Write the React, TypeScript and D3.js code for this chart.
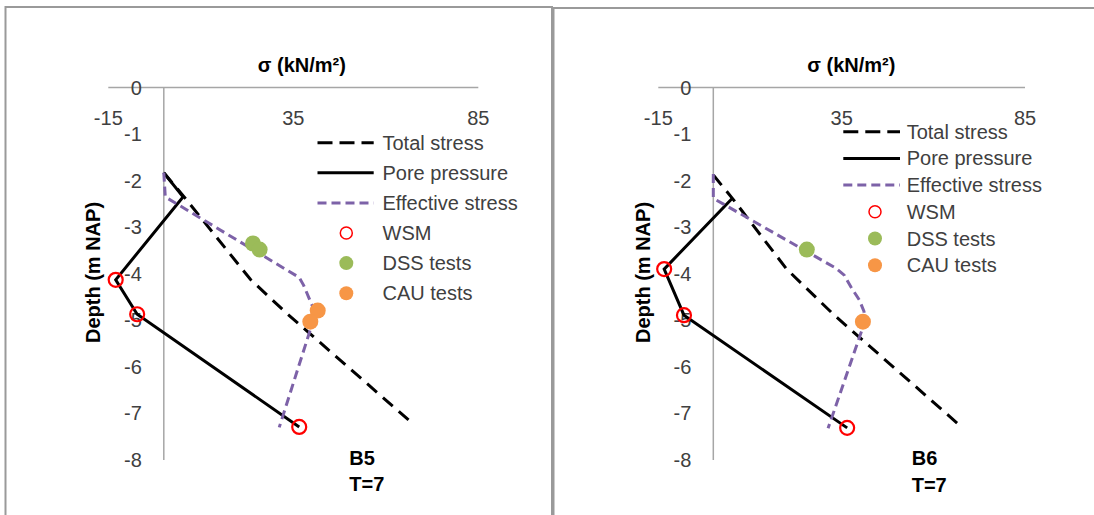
import React from "react";
import * as d3 from "d3";

// ---------- data ----------
const xTicks = [-15, 35, 85];
const yTicks = [0, -1, -2, -3, -4, -5, -6, -7, -8];
const legendLabels = ["Total stress", "Pore pressure", "Effective stress", "WSM", "DSS tests", "CAU tests"];
const xTitle = "σ (kN/m²)";
const yTitle = "Depth (m NAP)";

// B5
const b5TotalSigma = [0, 5.5, 23.5, 33.5, 67.3];
const b5TotalDepth = [-1.83, -2.35, -4.13, -4.87, -7.22];
const b5PoreSigma = [0, 5.2, -13.0, -7.2, 36.6];
const b5PoreDepth = [-1.83, -2.35, -4.13, -4.87, -7.29];
const b5EffSigma = [0, 0.4, 36.6, 37.8, 41.0, 31.2];
const b5EffDepth = [-1.83, -2.35, -4.08, -4.25, -4.85, -7.3];
const b5WsmSigma = [-13.0, -7.2, 36.6];
const b5WsmDepth = [-4.13, -4.87, -7.29];
const b5DssSigma = [24.1, 25.9];
const b5DssDepth = [-3.35, -3.48];
const b5CauSigma = [41.6, 39.6];
const b5CauDepth = [-4.79, -5.03];

// B6
const b6TotalSigma = [0, 5.2, 20.0, 33.0, 67.4];
const b6TotalDepth = [-1.88, -2.38, -3.9, -4.89, -7.27];
const b6PoreSigma = [5.2, -13.4, -8.0, 36.5];
const b6PoreDepth = [-2.38, -3.9, -4.89, -7.31];
const b6EffSigma = [0, 0, 33.4, 35.7, 37.5, 39.8, 41.1, 41.0, 31.3];
const b6EffDepth = [-1.86, -2.38, -3.88, -4.03, -4.28, -4.56, -4.81, -5.1, -7.32];
const b6WsmSigma = [-13.4, -8.0, 36.5];
const b6WsmDepth = [-3.9, -4.89, -7.31];
const b6DssSigma = [25.5];
const b6DssDepth = [-3.48];
const b6CauSigma = [40.8];
const b6CauDepth = [-5.03];

const zip = (xs: number[], ys: number[]) => xs.map((x, i) => [x, ys[i]] as [number, number]);

const panels = [
  {
    name: "B5",
    frame: { x: 5.5, y: 7, w: 546.5 },
    xr: [108.3, 478.3],
    legend: { x1: 317.5, x2: 373.7, mx: 346.3, tx: 382.5, y0: 142.7, dy: 30.1 },
    tag: { x: 349.3, y1: 458.3, y2: 484 },
    total: zip(b5TotalSigma, b5TotalDepth),
    pore: zip(b5PoreSigma, b5PoreDepth),
    eff: zip(b5EffSigma, b5EffDepth),
    wsm: zip(b5WsmSigma, b5WsmDepth),
    dss: zip(b5DssSigma, b5DssDepth),
    cau: zip(b5CauSigma, b5CauDepth),
  },
  {
    name: "B6",
    frame: { x: 553.5, y: 8, w: 560 },
    xr: [658.3, 1025],
    legend: { x1: 843.3, x2: 900, mx: 875, tx: 906.7, y0: 131.7, dy: 26.7 },
    tag: { x: 911.7, y1: 458.3, y2: 485 },
    total: zip(b6TotalSigma, b6TotalDepth),
    pore: zip(b6PoreSigma, b6PoreDepth),
    eff: zip(b6EffSigma, b6EffDepth),
    wsm: zip(b6WsmSigma, b6WsmDepth),
    dss: zip(b6DssSigma, b6DssDepth),
    cau: zip(b6CauSigma, b6CauDepth),
  },
];

const FONT = "'Liberation Sans', Arial, sans-serif";
const TXT = "#404040";
const PURPLE = "#7d62a8";
const GREEN = "#9BBB59";
const ORANGE = "#F79646";
const RED = "#FF0000";
const AXIS = "#a6a6a6";

function Panel({ p }: { p: (typeof panels)[number] }) {
  const x = d3.scaleLinear().domain([-15, 85]).range(p.xr as [number, number]);
  const y = d3.scaleLinear().domain([0, -8]).range([87.5, 460]);
  const line = d3
    .line<[number, number]>()
    .x((d) => x(d[0]))
    .y((d) => y(d[1]));
  const x0 = x(0);
  const L = p.legend;
  const ly = (i: number) => L.y0 + L.dy * i;
  return (
    <g>
      <rect x={p.frame.x} y={p.frame.y} width={p.frame.w} height={600} fill="#fff" stroke="#9a9a9a" strokeWidth={2} />
      {/* axes */}
      <line x1={x(-15)} x2={x(85)} y1={y(0)} y2={y(0)} stroke={AXIS} strokeWidth={1.5} />
      <line x1={x0} x2={x0} y1={y(0)} y2={y(-8)} stroke={AXIS} strokeWidth={1.5} />
      {xTicks.map((t) => (
        <text key={"xt" + t} x={x(t)} y={118} textAnchor="middle" dominantBaseline="central" fontSize={20} fill={TXT} fontFamily={FONT}>
          {t}
        </text>
      ))}
      {yTicks.map((t) => (
        <text key={"yt" + t} x={x0 - 22} y={y(t)} textAnchor="end" dominantBaseline="central" fontSize={20} fill={TXT} fontFamily={FONT}>
          {t}
        </text>
      ))}
      <text x={x0 + 138} y={65} textAnchor="middle" dominantBaseline="central" fontSize={20} fontWeight="bold" fill="#000" fontFamily={FONT}>
        {xTitle}
      </text>
      <text
        transform={`translate(${x0 - 70.5},272.5) rotate(-90)`}
        textAnchor="middle"
        dominantBaseline="central"
        fontSize={20}
        fontWeight="bold"
        fill="#000"
        fontFamily={FONT}
      >
        {yTitle}
      </text>
      {/* series */}
      <path d={line(p.total) || ""} fill="none" stroke="#000" strokeWidth={3} strokeDasharray="13,8" />
      <path d={line(p.pore) || ""} fill="none" stroke="#000" strokeWidth={3} strokeLinejoin="miter" />
      <path d={line(p.eff) || ""} fill="none" stroke={PURPLE} strokeWidth={3} strokeDasharray="9,5" />
      {p.wsm.map((d, i) => (
        <circle key={"w" + i} cx={x(d[0])} cy={y(d[1])} r={7} fill="none" stroke={RED} strokeWidth={2.2} />
      ))}
      {p.dss.map((d, i) => (
        <circle key={"d" + i} cx={x(d[0])} cy={y(d[1])} r={8} fill={GREEN} />
      ))}
      {p.cau.map((d, i) => (
        <circle key={"c" + i} cx={x(d[0])} cy={y(d[1])} r={8} fill={ORANGE} />
      ))}
      {/* legend */}
      <line x1={L.x1} x2={L.x2} y1={ly(0)} y2={ly(0)} stroke="#000" strokeWidth={3} strokeDasharray="15,7" />
      <line x1={L.x1} x2={L.x2} y1={ly(1)} y2={ly(1)} stroke="#000" strokeWidth={3} />
      <line x1={L.x1} x2={L.x2} y1={ly(2)} y2={ly(2)} stroke={PURPLE} strokeWidth={3} strokeDasharray="9,5" />
      <circle cx={L.mx} cy={ly(3)} r={6} fill="none" stroke={RED} strokeWidth={1.5} />
      <circle cx={L.mx} cy={ly(4)} r={7} fill={GREEN} />
      <circle cx={L.mx} cy={ly(5)} r={7} fill={ORANGE} />
      {legendLabels.map((s, i) => (
        <text key={s} x={L.tx} y={ly(i)} dominantBaseline="central" fontSize={20} fill={TXT} fontFamily={FONT}>
          {s}
        </text>
      ))}
      <text x={p.tag.x} y={p.tag.y1} dominantBaseline="central" fontSize={20} fontWeight="bold" fill="#000" fontFamily={FONT}>
        {p.name}
      </text>
      <text x={p.tag.x} y={p.tag.y2} dominantBaseline="central" fontSize={20} fontWeight="bold" fill="#000" fontFamily={FONT}>
        T=7
      </text>
    </g>
  );
}

export default function App() {
  return (
    <svg width={1094} height={515} style={{ position: "absolute", left: 0, top: 0, background: "#fff" }}>
      <rect x={0} y={0} width={1094} height={515} fill="#fff" />
      {panels.map((p) => (
        <Panel key={p.name} p={p} />
      ))}
    </svg>
  );
}
